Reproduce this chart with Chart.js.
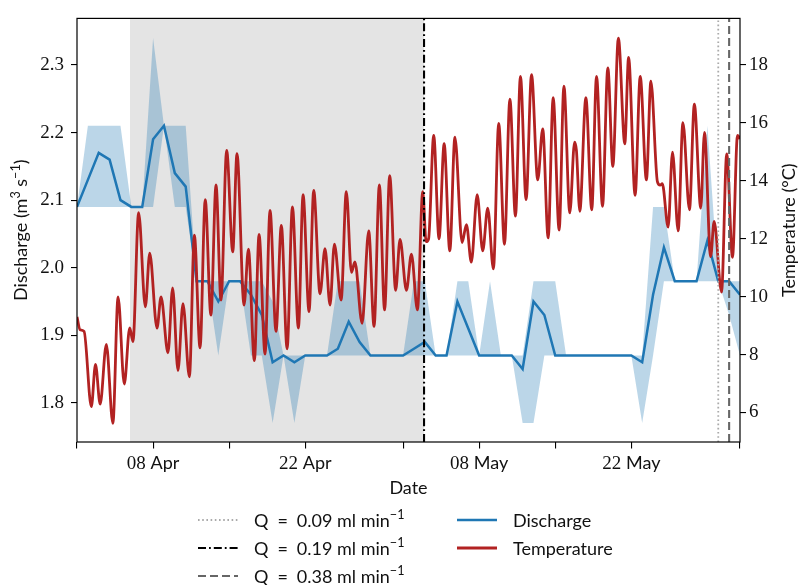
<!DOCTYPE html>
<html lang="en">
<head>
<meta charset="utf-8">
<title>Discharge and temperature</title>
<script src="https://cdn.jsdelivr.net/npm/chart.js@4/dist/chart.umd.min.js"></script>
<style>
  html, body { margin: 0; padding: 0; background: #fff; }
  #wrap { width: 799px; height: 585px; }
</style>
</head>
<body>
<div id="wrap"><canvas id="grafico" width="799" height="585"></canvas></div>

<script>
  // days are counted from 01 Apr 00:00 (x axis runs 01 Apr .. 01 Jun)

  // daily discharge (m3/s): mean, upper and lower envelope, one value per day 0..61
  const dischargeMean = [
    2.09, 2.13, 2.17, 2.16, 2.10, 2.09, 2.09, 2.19, 2.21, 2.14,
    2.12, 1.98, 1.98, 1.95, 1.98, 1.98, 1.96, 1.93, 1.86, 1.87,
    1.86, 1.87, 1.87, 1.87, 1.88, 1.92, 1.89, 1.87, 1.87, 1.87,
    1.87, 1.88, 1.89, 1.87, 1.87, 1.95, 1.91, 1.87, 1.87, 1.87,
    1.87, 1.85, 1.95, 1.93, 1.87, 1.87, 1.87, 1.87, 1.87, 1.87,
    1.87, 1.87, 1.86, 1.96, 2.03, 1.98, 1.98, 1.98, 2.04, 1.98,
    1.98, 1.96
  ];
  const dischargeHigh = [
    2.09, 2.21, 2.21, 2.21, 2.21, 2.09, 2.09, 2.34, 2.21, 2.21,
    2.21, 1.98, 1.98, 1.98, 1.98, 1.98, 1.98, 1.98, 1.95, 1.87,
    1.87, 1.87, 1.87, 1.87, 1.98, 1.98, 1.98, 1.87, 1.87, 1.87,
    1.87, 1.98, 1.98, 1.87, 1.87, 1.98, 1.98, 1.87, 1.98, 1.87,
    1.87, 1.87, 1.98, 1.98, 1.98, 1.87, 1.87, 1.87, 1.87, 1.87,
    1.87, 1.87, 1.87, 2.09, 2.09, 1.98, 1.98, 1.98, 2.21, 1.98,
    1.98, 1.98
  ];
  const dischargeLow = [
    2.09, 2.09, 2.09, 2.09, 2.09, 2.09, 2.09, 2.09, 2.21, 2.09,
    2.09, 1.98, 1.98, 1.87, 1.98, 1.98, 1.87, 1.87, 1.77, 1.87,
    1.77, 1.87, 1.87, 1.87, 1.87, 1.87, 1.87, 1.87, 1.87, 1.87,
    1.87, 1.87, 1.87, 1.87, 1.87, 1.87, 1.87, 1.87, 1.87, 1.87,
    1.87, 1.77, 1.77, 1.87, 1.87, 1.87, 1.87, 1.87, 1.87, 1.87,
    1.87, 1.87, 1.77, 1.87, 1.98, 1.98, 1.98, 1.98, 1.98, 1.98,
    1.93, 1.87
  ];

  // water temperature (°C), daily lows and highs
  const tempDays = [
    0, 0.28, 0.65, 1.32, 1.7, 2.13, 2.7, 3.3, 3.78, 4.35,
    4.85, 5.15, 5.67, 6.29, 6.69, 7.36, 7.73, 8.37, 8.8, 9.29,
    9.75, 10.34, 10.8, 11.32, 11.8, 12.32, 12.79, 13.25, 13.77, 14.33,
    14.72, 15.37, 15.77, 16.32, 16.75, 17.3, 17.76, 18.31, 18.8, 19.33,
    19.82, 20.37, 20.8, 21.35, 21.78, 22.36, 22.82, 23.28, 23.68, 24.3,
    24.78, 25.25, 25.57, 26.23, 26.84, 27.33, 27.82, 28.3, 28.77, 29.32,
    29.72, 30.31, 30.77, 31.32, 31.81, 32.12, 32.35, 32.82, 33.31, 33.78,
    34.3, 34.77, 35.43, 35.83, 36.28, 36.82, 37.33, 37.79, 38.31, 38.8,
    39.33, 39.83, 40.34, 40.8, 41.32, 41.82, 42.39, 42.85, 43.35, 43.81,
    44.36, 44.8, 45.34, 45.78, 45.95, 46.26, 46.82, 47.36, 47.8, 48.35,
    48.84, 49.3, 49.81, 50.4, 50.75, 51.35, 51.82, 52.39, 52.8, 53.4,
    53.65, 53.85, 54.39, 54.79, 55.31, 55.75, 56.35, 56.8, 57.39, 57.73,
    58.3, 58.62, 59.3, 59.78, 60.31, 60.77, 61
  ];
  const tempValues = [
    9.3, 8.86, 8.8, 6.2, 7.66, 6.29, 8.35, 5.62, 9.99, 6.98,
    8.92, 8.45, 12.9, 9.65, 11.5, 8.91, 9.99, 8.06, 10.3, 7.45,
    9.76, 7.23, 12.12, 8.23, 13.35, 9.36, 13.86, 9.88, 15.05, 11.55,
    14.94, 9.71, 11.64, 7.79, 12.15, 8.02, 12.98, 8.8, 12.46, 8.2,
    13.1, 8.91, 13.52, 9.48, 13.67, 10.1, 11.66, 9.71, 11.81, 9.88,
    13.63, 10.84, 11.2, 9.08, 12.27, 8.97, 13.86, 9.54, 14.18, 10.22,
    11.98, 10.22, 11.47, 9.54, 13.63, 11.9, 12.0, 15.57, 12.0, 15.28,
    11.58, 15.51, 11.87, 12.49, 11.19, 13.52, 11.58, 13.06, 10.96, 15.98,
    11.81, 16.82, 12.78, 17.61, 13.35, 17.67, 14.03, 15.79, 12.03, 16.87,
    12.3, 17.27, 12.89, 15.34, 15.05, 12.95, 16.87, 13.0, 17.61, 13.12,
    17.9, 14.5, 18.93, 15.28, 18.26, 13.5, 17.61, 14.03, 17.44, 13.97,
    13.85, 13.9, 12.4, 14.99, 12.27, 16.01, 13.0, 16.65, 13.06, 15.67,
    11.38, 12.6, 10.16, 14.93, 11.36, 15.57, 15.45
  ];

  // flow-rate changes (vertical lines) and the grey period
  const flowDays = [59.0, 31.93, 60.0];
  const flowLabels = [
    'Q\u2002=\u20020.09 ml min^{−1}',
    'Q\u2002=\u20020.19 ml min^{−1}',
    'Q\u2002=\u20020.38 ml min^{−1}'
  ];
  const greyPeriod = [4.88, 31.93];

  // x ticks
  const majorTickDays = [7, 21, 37, 51];
  const majorTickDay = ['08', '22', '08', '22'];
  const majorTickMonth = ['Apr', 'Apr', 'May', 'May'];
  const minorTickDays = [0, 14, 30, 44, 61];

  // y ticks
  const dischargeTicks = [1.8, 1.9, 2.0, 2.1, 2.2, 2.3];
  const tempTicks = [6, 8, 10, 12, 14, 16, 18];

  const Q_MIN = 1.742, Q_MAX = 2.369;
  const T_MIN = 4.98, T_MAX = 19.61;

  const SANS = 'Lato, "DejaVu Sans", sans-serif';
  const SERIF = '"Liberation Serif", "DejaVu Serif", serif';
  const AZUL = '#1f77b4';
  const VERMELHO = '#b22222';

  const dias = dischargeMean.map((v, i) => i);
  const pontos = (xs, ys) => xs.map((x, i) => ({ x: x, y: ys[i] }));

  // text with ^{...} superscripts
  function textoRico(ctx, texto, x, y, tamanho, alinhamento) {
    const partes = [];
    const re = /\^\{([^}]*)\}/g;
    let ultimo = 0, m;
    while ((m = re.exec(texto)) !== null) {
      if (m.index > ultimo) partes.push({ t: texto.slice(ultimo, m.index), sup: false });
      partes.push({ t: m[1], sup: true });
      ultimo = re.lastIndex;
    }
    if (ultimo < texto.length) partes.push({ t: texto.slice(ultimo), sup: false });

    let largura = 0;
    partes.forEach(function (p) {
      ctx.font = (p.sup ? tamanho * 0.7 : tamanho) + 'px ' + SANS;
      p.w = ctx.measureText(p.t).width;
      largura += p.w;
    });
    let cx = alinhamento === 'center' ? x - largura / 2 : x;
    ctx.textAlign = 'left';
    ctx.textBaseline = 'alphabetic';
    partes.forEach(function (p) {
      ctx.font = (p.sup ? tamanho * 0.7 : tamanho) + 'px ' + SANS;
      ctx.fillText(p.t, cx, p.sup ? y - tamanho * 0.4 : y);
      cx += p.w;
    });
  }

  const decoracao = {
    id: 'decoracao',
    beforeDatasetsDraw(chart) {
      const ctx = chart.ctx, a = chart.chartArea, x = chart.scales.x;
      const x0 = x.getPixelForValue(greyPeriod[0]);
      const x1 = x.getPixelForValue(greyPeriod[1]);
      ctx.save();
      ctx.fillStyle = '#e4e4e4';
      ctx.fillRect(x0, a.top, x1 - x0, a.bottom - a.top);
      ctx.restore();
    },
    afterDraw(chart) {
      const ctx = chart.ctx, a = chart.chartArea, x = chart.scales.x;
      ctx.save();

      // frame
      ctx.strokeStyle = '#000';
      ctx.lineWidth = 1.2;
      ctx.strokeRect(a.left, a.top, a.right - a.left, a.bottom - a.top);

      // date labels: day in serif, month in sans
      ctx.fillStyle = '#111';
      ctx.textBaseline = 'alphabetic';
      ctx.textAlign = 'left';
      majorTickDays.forEach(function (d, i) {
        const px = x.getPixelForValue(d);
        ctx.font = '19px ' + SERIF;
        const w1 = ctx.measureText(majorTickDay[i] + ' ').width;
        ctx.font = '18px ' + SANS;
        const w2 = ctx.measureText(majorTickMonth[i]).width;
        let sx = px - (w1 + w2) / 2;
        ctx.font = '19px ' + SERIF;
        ctx.fillText(majorTickDay[i] + ' ', sx, 469);
        ctx.font = '18px ' + SANS;
        ctx.fillText(majorTickMonth[i], sx + w1, 469);
      });

      // axis titles
      textoRico(ctx, 'Date', (a.left + a.right) / 2, 494, 18, 'center');
      const meio = (a.top + a.bottom) / 2;
      ctx.save();
      ctx.translate(27, meio);
      ctx.rotate(-Math.PI / 2);
      textoRico(ctx, 'Discharge (m^{3} s^{−1})', 0, 0, 18, 'center');
      ctx.restore();
      ctx.save();
      ctx.translate(795, meio);
      ctx.rotate(-Math.PI / 2);
      textoRico(ctx, 'Temperature (°C)', 0, 0, 18, 'center');
      ctx.restore();

      // legend, two columns like the original
      const ds = chart.data.datasets;
      const linhas = [520, 548, 576];
      const colunas = [
        { amostra: 198, texto: 254, itens: [0, 1, 2] },
        { amostra: 457, texto: 513, itens: [4, 3] }
      ];
      colunas.forEach(function (c) {
        c.itens.forEach(function (idx, r) {
          const d = ds[idx];
          const y = linhas[r];
          ctx.save();
          ctx.strokeStyle = d.borderColor;
          ctx.lineWidth = d.borderWidth;
          ctx.setLineDash(d.borderDash || []);
          ctx.beginPath();
          ctx.moveTo(c.amostra, y);
          ctx.lineTo(c.amostra + 40, y);
          ctx.stroke();
          ctx.restore();
          ctx.fillStyle = '#111';
          textoRico(ctx, d.label, c.texto, y + 6.5, 18, 'left');
        });
      });

      ctx.restore();
    }
  };

  const linhaVertical = (i, cor, traco, largura) => ({
    label: flowLabels[i],
    data: [{ x: flowDays[i], y: Q_MIN }, { x: flowDays[i], y: Q_MAX }],
    yAxisID: 'y',
    borderColor: cor,
    borderDash: traco,
    borderWidth: largura,
    pointRadius: 0,
    fill: false
  });

  new Chart(document.getElementById('grafico'), {
    type: 'line',
    data: {
      datasets: [
        linhaVertical(0, '#aaaaaa', [1.6, 2.6], 1.8),
        linhaVertical(1, '#000000', [8, 3, 1.8, 3], 2.1),
        linhaVertical(2, '#666666', [8, 4], 2.1),
        {
          label: 'Temperature',
          data: pontos(tempDays, tempValues),
          yAxisID: 'y2',
          borderColor: VERMELHO,
          borderWidth: 2.8,
          pointRadius: 0,
          cubicInterpolationMode: 'monotone',
          fill: false
        },
        {
          label: 'Discharge',
          data: pontos(dias, dischargeMean),
          yAxisID: 'y',
          borderColor: AZUL,
          borderWidth: 2.5,
          pointRadius: 0,
          tension: 0,
          fill: false
        },
        {
          label: 'Discharge max',
          data: pontos(dias, dischargeHigh),
          yAxisID: 'y',
          borderWidth: 0,
          borderColor: 'rgba(0,0,0,0)',
          backgroundColor: 'rgba(31,119,180,0.3)',
          pointRadius: 0,
          tension: 0,
          fill: '+1'
        },
        {
          label: 'Discharge min',
          data: pontos(dias, dischargeLow),
          yAxisID: 'y',
          borderWidth: 0,
          borderColor: 'rgba(0,0,0,0)',
          pointRadius: 0,
          tension: 0,
          fill: false
        }
      ]
    },
    options: {
      responsive: false,
      animation: false,
      events: [],
      layout: { padding: { top: 13, left: 0, right: 0, bottom: 0 } },
      plugins: {
        legend: { display: false },
        tooltip: { enabled: false }
      },
      scales: {
        x: {
          type: 'linear',
          min: 0,
          max: 61,
          afterBuildTicks: function (scale) {
            scale.ticks = majorTickDays.concat(minorTickDays)
              .sort((a, b) => a - b)
              .map(v => ({ value: v }));
          },
          afterFit: function (scale) { scale.height = 143; },
          ticks: { autoSkip: false, callback: () => '' },
          grid: {
            drawOnChartArea: false,
            drawTicks: true,
            tickLength: 6.5,
            color: '#000',
            tickColor: '#000',
            lineWidth: 1.1
          },
          border: { display: false }
        },
        y: {
          position: 'left',
          min: Q_MIN,
          max: Q_MAX,
          afterBuildTicks: function (scale) {
            scale.ticks = dischargeTicks.map(v => ({ value: v }));
          },
          afterFit: function (scale) { scale.width = 77; },
          ticks: {
            autoSkip: false,
            padding: 7,
            color: '#111',
            font: { family: SERIF, size: 19 },
            callback: v => Number(v).toFixed(1)
          },
          grid: {
            drawOnChartArea: false,
            drawTicks: true,
            tickLength: 6,
            color: '#000',
            tickColor: '#000',
            lineWidth: 1.1
          },
          border: { display: false }
        },
        y2: {
          position: 'right',
          min: T_MIN,
          max: T_MAX,
          afterBuildTicks: function (scale) {
            scale.ticks = tempTicks.map(v => ({ value: v }));
          },
          afterFit: function (scale) { scale.width = 59; },
          ticks: {
            autoSkip: false,
            padding: 3,
            color: '#111',
            font: { family: SERIF, size: 19 },
            callback: v => String(v)
          },
          grid: {
            drawOnChartArea: false,
            drawTicks: true,
            tickLength: 6,
            color: '#000',
            tickColor: '#000',
            lineWidth: 1.1
          },
          border: { display: false }
        }
      }
    },
    plugins: [decoracao]
  });
</script>
</body>
</html>
